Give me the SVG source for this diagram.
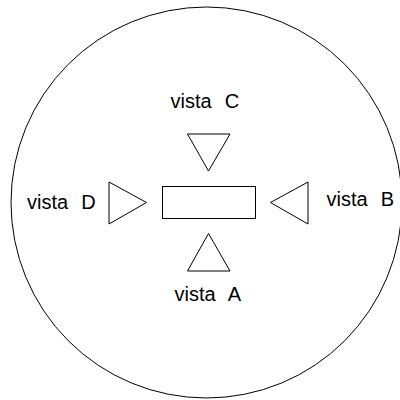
<svg xmlns="http://www.w3.org/2000/svg" width="400" height="400" viewBox="0 0 400 400">
<style>
.s{fill:none;stroke:#000;stroke-width:1}
.t{font-family:"Liberation Sans",Arial,sans-serif;font-size:20px;fill:#000;white-space:pre;word-spacing:1px}
</style>
<rect width="400" height="400" fill="#fff"/>
<g id="circle"><circle class="s" cx="206.5" cy="202.5" r="195.5"/></g>
<g id="object"><rect class="s" x="162.5" y="186.5" width="93" height="32"/></g>
<g id="vistaC">
<polygon class="s" points="187.5,134 230,134 208.5,171"/>
<text class="t" x="170.5" y="108" xml:space="preserve">vista  C</text>
</g>
<g id="vistaA">
<polygon class="s" points="208.5,233.5 230,271 187.5,271"/>
<text class="t" x="174.5" y="300.5" xml:space="preserve">vista  A</text>
</g>
<g id="vistaD">
<polygon class="s" points="109,182 146.5,202.5 109,224"/>
<text class="t" x="27" y="209" xml:space="preserve">vista  D</text>
</g>
<g id="vistaB">
<polygon class="s" points="308,182 270.5,202.5 308,224"/>
<text class="t" x="326.5" y="205.5" xml:space="preserve">vista  B</text>
</g>
<g id="connectors"></g>
</svg>
